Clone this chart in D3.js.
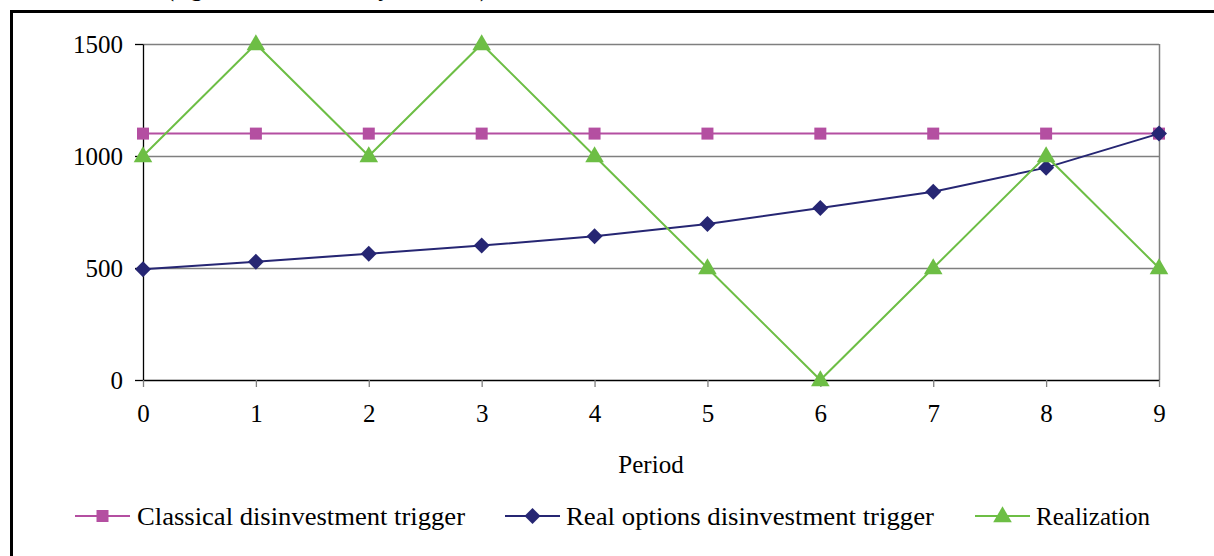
<!DOCTYPE html>
<html>
<head>
<meta charset="utf-8">
<script src="https://cdn.jsdelivr.net/npm/d3@7"></script>
<style>
  html, body { margin: 0; padding: 0; background: #fff; }
  svg { display: block; }
  text { font-family: "Liberation Serif", "Times New Roman", serif; fill: #000; }
</style>
</head>
<body>
<svg id="chart" width="1214" height="556"></svg>
<script>
const periods = [0, 1, 2, 3, 4, 5, 6, 7, 8, 9];
const classicalTrigger = [1100, 1100, 1100, 1100, 1100, 1100, 1100, 1100, 1100, 1100];
const realOptionsTrigger = [494, 528, 564, 600, 642, 696, 768, 840, 948, 1100];
const realization = [1000, 1500, 1000, 1500, 1000, 500, 0, 500, 1000, 500];
const yTicks = [0, 500, 1000, 1500];
const seriesNames = ["Classical disinvestment trigger", "Real options disinvestment trigger", "Realization"];
const xAxisTitle = "Period";

const svg = d3.select("#chart");
const W = 1214, H = 556;
const serif = "'Liberation Serif', 'Times New Roman', serif";

// clipped heading above the frame (only its descenders show, as in the reference)
svg.append("text")
  .attr("x", 166).attr("y", -4)
  .attr("font-size", 26).attr("font-weight", "bold")
  .attr("textLength", 322).attr("lengthAdjust", "spacingAndGlyphs")
  .text("(e.g. an investment by the firm)");

// outer frame (top and left visible)
svg.append("line").attr("x1", 11).attr("x2", W).attr("y1", 11.5).attr("y2", 11.5)
  .attr("stroke", "#000").attr("stroke-width", 3);
svg.append("line").attr("x1", 11.5).attr("x2", 11.5).attr("y1", 10).attr("y2", H)
  .attr("stroke", "#000").attr("stroke-width", 3);

const x = d3.scaleLinear().domain([0, 9]).range([143, 1159]);
const y = d3.scaleLinear().domain([0, 1500]).range([380, 44]);

// gridlines
svg.append("g").selectAll("line").data(yTicks.filter(d => d > 0)).join("line")
  .attr("x1", x(0)).attr("x2", x(9))
  .attr("y1", d => Math.round(y(d)) + 0.5).attr("y2", d => Math.round(y(d)) + 0.5)
  .attr("stroke", "#7f7f7f").attr("stroke-width", 1.3);

// right border of plot area
svg.append("line").attr("x1", x(9) + 0.5).attr("x2", x(9) + 0.5)
  .attr("y1", y(1500)).attr("y2", y(0))
  .attr("stroke", "#7f7f7f").attr("stroke-width", 1.5);

// y axis
const yAxis = svg.append("g").attr("transform", `translate(${x(0)},0)`)
  .call(d3.axisLeft(y).tickValues(yTicks).tickFormat(d3.format("d"))
    .tickSize(8).tickPadding(12).tickSizeOuter(0));
yAxis.attr("font-family", null).attr("font-size", null);
yAxis.select(".domain").attr("stroke", "#000").attr("stroke-width", 1.3);
yAxis.selectAll(".tick line").attr("stroke", "#000").attr("stroke-width", 1.3);
yAxis.selectAll(".tick text").style("font-size", "25px").style("font-family", serif).attr("fill", "#000");

// x axis
const xAxis = svg.append("g").attr("transform", `translate(0,${y(0)})`)
  .call(d3.axisBottom(x).tickValues(periods).tickFormat(d3.format("d"))
    .tickSize(7).tickPadding(17).tickSizeOuter(0));
xAxis.attr("font-family", null).attr("font-size", null);
xAxis.select(".domain").attr("stroke", "#000").attr("stroke-width", 1.3);
xAxis.selectAll(".tick line").attr("stroke", "#7f7f7f").attr("stroke-width", 1.3);
xAxis.selectAll(".tick text").style("font-size", "25px").style("font-family", serif).attr("fill", "#000");

svg.append("text").attr("x", (x(0) + x(9)) / 2).attr("y", 473)
  .attr("text-anchor", "middle").attr("font-size", 25).text(xAxisTitle);

const colors = ["#B44FA1", "#262673", "#6DBE45"];
const seriesData = [classicalTrigger, realOptionsTrigger, realization];

const line = d3.line().x((d, i) => x(periods[i])).y(d => y(d));

// marker shapes
const squarePath = d3.symbol().type(d3.symbolSquare).size(144)();
const diamondPath = "M0,-8L8,0L0,8L-8,0Z";
const trianglePath = d3.symbol().type(d3.symbolTriangle).size(150)();
const markerPaths = [squarePath, diamondPath, trianglePath];

seriesData.forEach((vals, s) => {
  const g = svg.append("g");
  g.append("path").datum(vals).attr("d", line)
    .attr("fill", "none").attr("stroke", colors[s]).attr("stroke-width", 2);
  g.selectAll("path.m").data(vals).join("path").attr("class", "m")
    .attr("transform", (d, i) => `translate(${x(periods[i])},${y(d) + (s === 2 ? 1 : 0)})`)
    .attr("d", markerPaths[s]).attr("fill", colors[s]);
});

// legend
const legendY = 516;
const legendItems = [
  { lx1: 75, lx2: 130, tx: 137, tw: 328 },
  { lx1: 505, lx2: 560, tx: 566, tw: 368 },
  { lx1: 975, lx2: 1030, tx: 1036, tw: 114 }
];
legendItems.forEach((it, s) => {
  const g = svg.append("g");
  g.append("line").attr("x1", it.lx1).attr("x2", it.lx2)
    .attr("y1", legendY).attr("y2", legendY)
    .attr("stroke", colors[s]).attr("stroke-width", 2);
  g.append("path")
    .attr("transform", `translate(${(it.lx1 + it.lx2) / 2},${legendY + (s === 2 ? 1 : 0)})`)
    .attr("d", markerPaths[s]).attr("fill", colors[s]);
  g.append("text").attr("x", it.tx).attr("y", legendY + 9)
    .attr("font-size", 26)
    .attr("textLength", it.tw).attr("lengthAdjust", "spacingAndGlyphs")
    .text(seriesNames[s]);
});
</script>
</body>
</html>
